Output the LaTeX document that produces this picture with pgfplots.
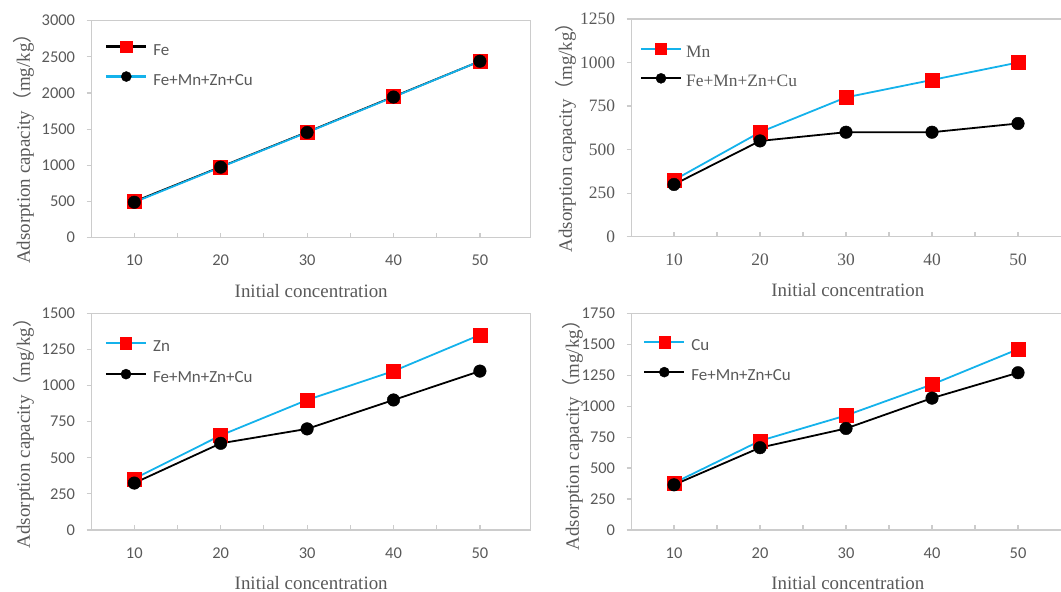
\documentclass[border=0pt]{standalone}
\usepackage{fontspec}
\setmainfont{Liberation Serif}
\newfontfamily\carlito{Carlito}
\newfontfamily\cjk{Noto Sans CJK SC}
\usepackage{pgfplots}
\pgfplotsset{compat=1.18}
\definecolor{framegray}{RGB}{204,204,204}
\definecolor{txtgray}{RGB}{89,89,89}
\definecolor{xlblue}{RGB}{20,178,235}
\definecolor{xlred}{RGB}{255,0,0}

\pgfplotsset{
  panel/.style={
    scale only axis,
    ymin=0,
    axis line style={draw=framegray, line width=1.2bp},
    tick pos=left,
    xtick={10,20,30,40,50}, minor xtick={15,25,35,45},
    xtick align=inside, ytick align=outside,
    major tick length=5bp, minor tick length=5bp,
    tick style={draw=framegray, line width=1.2bp},
    minor tick style={draw=framegray, line width=1.2bp},
    /pgf/number format/assume math mode=true,
    /pgf/number format/1000 sep={},
    tick label style={text=txtgray, font=\carlito\fontsize{16.5}{18}\selectfont},
    xticklabel style={anchor=center, inner sep=0pt, yshift=-23bp},
    yticklabel style={anchor=east, inner sep=0pt, xshift=-11.5bp},
    label style={font=\fontsize{19}{22}\selectfont, text=txtgray},
    xlabel={Initial concentration},
    ylabel={Adsorption capacity{\cjk （}mg/kg{\cjk ）}},
    xlabel style={at={([yshift=-53bp]axis description cs:0.5,0)}, anchor=center},
    legend style={draw=none, fill=none, anchor=north west, inner sep=0pt,
      font=\carlito\fontsize{17}{19}\selectfont,
      nodes={inner sep=0pt, text=txtgray, text height=12bp, text depth=4bp},
      row sep=12.5bp,
      /tikz/every odd column/.style={column sep=6bp}},
    legend cell align=left,
    legend image code/.code={
      \draw[mark repeat=2, mark phase=2, ##1, line width=2.2bp,
        every mark/.append style={scale=0.8}]
        plot coordinates {(0bp,4.5bp) (20bp,4.5bp) (40bp,4.5bp)};},
  },
  sq/.style={mark=square*, mark size=7bp, mark options={draw=xlred, fill=xlred, line width=0.4bp}},
  dot/.style={mark=*, mark size=6.3bp, mark options={draw=black, fill=black, line width=0.4bp}},
}

\begin{document}
\begin{tikzpicture}
\path[use as bounding box, clip] (0,0) rectangle (1061bp,-592bp);

% Fe
\begin{axis}[panel,
  at={(91.7bp,-20.7bp)}, anchor=north west, width=439bp, height=217bp,
  xmin=5.07, xmax=55.88, ymax=3000, ytick={0,500,...,3000},
  ylabel style={at={([xshift=-68bp,yshift=-15bp]axis description cs:0,0.5)}, anchor=center},
  legend style={row sep=12.5bp, at={([xshift=13.3bp,yshift=-20bp]axis description cs:0,1)}}]
\addplot[black, line width=1.8bp, sq] coordinates {(10,500) (20,980) (30,1460) (40,1950) (50,2440)};
\addlegendentry{Fe}
\addplot[xlblue, line width=1.8bp, dot] coordinates {(10,490) (20,975) (30,1455) (40,1945) (50,2440)};
\addlegendentry{Fe+Mn+Zn+Cu}
\end{axis}

% Mn
\begin{axis}[panel,
  at={(631.7bp,-19bp)}, anchor=north west, width=432.3bp, height=217.7bp,
  xmin=5.08, xmax=55.35, ymax=1250, ytick={0,250,...,1250},
  tick label style={font=\fontsize{17.5}{20}\selectfont},
  legend style={font=\fontsize{17.5}{20}\selectfont, row sep=12bp,
    /tikz/every odd column/.style={column sep=4bp},
    at={([xshift=8bp,yshift=-24bp]axis description cs:0,1)}},
  ylabel style={at={([xshift=-66bp,yshift=-5bp]axis description cs:0,0.5)}, anchor=center}]
\addplot[xlblue, line width=1.8bp, sq] coordinates {(10,325) (20,600) (30,800) (40,900) (50,1000)};
\addlegendentry{Mn}
\addplot[black, line width=1.8bp, dot] coordinates {(10,300) (20,550) (30,600) (40,600) (50,650)};
\addlegendentry{Fe+Mn+Zn+Cu}
\end{axis}

% Zn
\begin{axis}[panel,
  at={(91.7bp,-313.3bp)}, anchor=north west, width=439bp, height=216.7bp,
  xmin=5.07, xmax=55.88, ymax=1500, ytick={0,250,...,1500},
  ylabel style={at={([xshift=-68bp,yshift=-7bp]axis description cs:0,0.5)}, anchor=center},
  legend style={row sep=13.5bp, at={([xshift=13bp,yshift=-24bp]axis description cs:0,1)}}]
\addplot[xlblue, line width=1.8bp, sq] coordinates {(10,355) (20,655) (30,900) (40,1100) (50,1350)};
\addlegendentry{Zn}
\addplot[black, line width=1.8bp, dot] coordinates {(10,325) (20,600) (30,700) (40,900) (50,1100)};
\addlegendentry{Fe+Mn+Zn+Cu}
\end{axis}

% Cu
\begin{axis}[panel,
  at={(631.7bp,-313.3bp)}, anchor=north west, width=432.3bp, height=216.7bp,
  xmin=5.08, xmax=55.35, ymax=1750, ytick={0,250,...,1750},
  ylabel style={at={([xshift=-59bp,yshift=-9bp]axis description cs:0,0.5)}, anchor=center},
  legend style={row sep=12.5bp, at={([xshift=11.3bp,yshift=-23bp]axis description cs:0,1)}}]
\addplot[xlblue, line width=1.8bp, sq] coordinates {(10,380) (20,720) (30,925) (40,1175) (50,1460)};
\addlegendentry{Cu}
\addplot[black, line width=1.8bp, dot] coordinates {(10,365) (20,665) (30,820) (40,1065) (50,1270)};
\addlegendentry{Fe+Mn+Zn+Cu}
\end{axis}
\end{tikzpicture}
\end{document}
